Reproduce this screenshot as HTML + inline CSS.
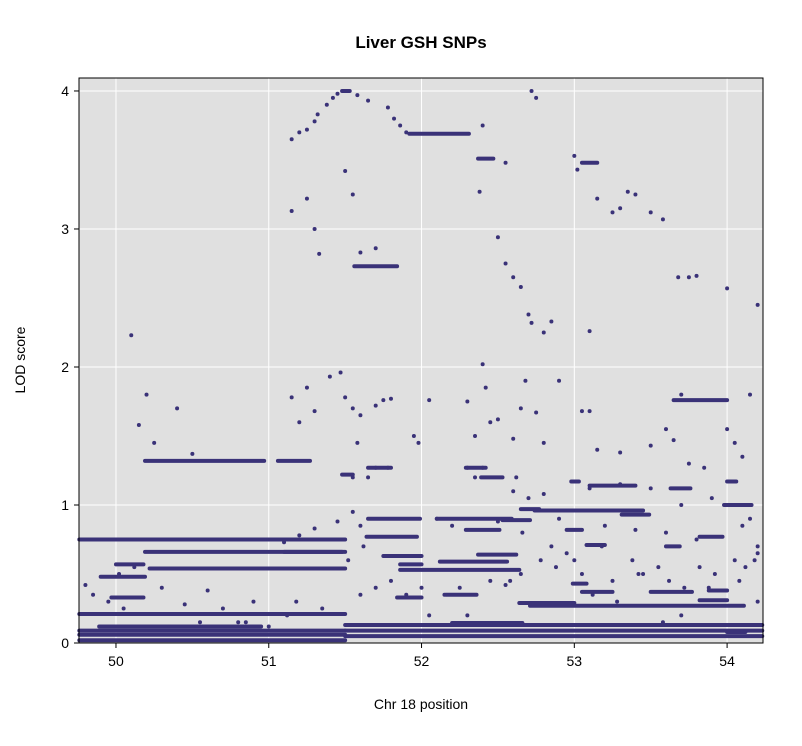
<!DOCTYPE html>
<html><head><meta charset="utf-8"><style>
body{margin:0;background:#fff;font-family:"Liberation Sans",Arial,sans-serif}
svg text{font-family:"Liberation Sans",Arial,sans-serif}
</style></head><body>
<svg id="chart" width="802" height="741" xmlns="http://www.w3.org/2000/svg">
<text x="421" y="48" text-anchor="middle" font-size="17" font-weight="bold">Liver GSH SNPs</text>
<rect x="79" y="78" width="684" height="565" fill="#e0e0e0"/>
<g id="grid"></g><g id="runs"></g><g id="pts"></g><g id="axes"></g>
<rect x="79" y="78" width="684" height="565" fill="none" stroke="#000" stroke-width="1"/>
<text x="421" y="709" text-anchor="middle" font-size="14">Chr 18 position</text>
<text x="0" y="0" transform="translate(25,360) rotate(-90)" text-anchor="middle" font-size="14">LOD score</text>
</svg>
<script>
const xTicks=[50,51,52,53,54];
const yTicks=[0,1,2,3,4];
// horizontal runs of dense SNPs: start pos, end pos, LOD
const runStart=[49.76,50.19,50.22,49.9,49.76,49.76,49.76,50.19,51.06,51.56,51.48,51.92,52.37,51.65,51.86,51.86,52.64,52.71,51.5,51.5,51.5,53.65,52.74,52.37,51.1,53.05,54.0,
 52.10,52.65,53.98,51.65,52.29,52.39,51.48,52.98,53.10,53.63,54.0,51.64,52.29,52.53,53.31,51.75,52.12,53.08,53.82,52.95,53.6,51.84,52.16,53.05,53.50,53.88,53.82,52.99,52.2,50.0,49.97,49.89,50.2,49.76];
const runEnd=[51.5,51.5,51.5,50.19,51.5,51.5,51.5,50.97,51.27,51.84,51.53,52.31,52.47,51.99,52.0,52.64,53.0,54.11,54.23,54.23,54.23,54.0,53.45,52.62,51.48,53.15,54.12,
 52.59,52.77,54.16,51.80,52.42,52.53,51.55,53.03,53.40,53.76,54.06,51.97,52.51,52.71,53.49,52.0,52.56,53.2,53.97,53.05,53.69,52.0,52.36,53.25,53.77,54.0,54.0,53.08,52.66,50.18,50.18,50.2,50.95,51.5];
const runLod=[0.75,0.66,0.54,0.48,0.21,0.06,0.09,1.32,1.32,2.73,4.0,3.69,3.51,0.9,0.57,0.53,0.29,0.27,0.13,0.09,0.05,1.76,0.96,0.64,0.66,3.48,0.08,
 0.90,0.97,1.0,1.27,1.27,1.2,1.22,1.17,1.14,1.12,1.17,0.77,0.82,0.89,0.93,0.63,0.59,0.71,0.77,0.82,0.7,0.33,0.35,0.37,0.37,0.38,0.31,0.43,0.145,0.57,0.33,0.12,0.12,0.02];
// individual SNPs
const ptPos=[51.15,51.2,51.25,51.3,51.32,51.38,51.42,51.45,51.58,51.65,51.78,51.82,51.86,51.9,52.4,52.55,52.38,52.5,52.55,52.6,52.65,52.7,52.72,52.8,52.85,52.72,52.75,53.0,53.02,53.15,53.25,53.3,53.35,53.4,53.5,53.58,53.68,53.75,53.8,54.0,54.2,53.1,51.15,51.25,51.3,51.33,51.5,51.55,51.6,51.7,50.1,50.15,50.2,50.25,50.4,50.5,51.15,51.2,51.25,51.3,51.4,51.47,51.5,51.55,51.6,51.7,51.75,51.8,51.58,51.55,51.65,51.7,51.78,51.95,51.98,52.05,52.3,52.35,52.4,52.42,52.45,52.5,52.6,52.68,52.65,52.75,52.8,52.9,53.05,53.1,53.15,53.3,53.5,53.6,53.7,53.65,53.75,53.85,54.0,54.05,54.1,54.15,52.3,52.35,52.4,52.6,52.62,52.7,52.8,53.1,53.3,53.5,53.7,53.9,54.0,54.15,54.2,51.1,51.2,51.3,51.45,51.55,51.6,52.1,52.2,52.5,52.9,53.2,53.4,53.6,53.8,54.1,54.18,49.8,49.85,49.95,50.05,50.1,50.3,50.45,50.6,50.8,50.9,51.0,51.6,51.7,51.8,51.9,52.0,52.15,52.25,52.45,52.55,52.65,52.78,52.88,52.95,53.05,53.18,53.25,53.38,53.45,53.55,53.62,53.72,53.82,53.92,54.05,54.12,54.2,51.12,51.18,51.35,51.52,51.62,51.9,52.05,52.3,52.58,52.66,52.85,53.0,53.12,53.28,53.42,53.58,53.7,53.88,54.08,54.2,50.02,50.12,50.35,50.55,50.7,50.85];
const ptLod=[3.65,3.7,3.72,3.78,3.83,3.9,3.95,3.98,3.97,3.93,3.88,3.8,3.75,3.7,3.75,3.48,3.27,2.94,2.75,2.65,2.58,2.38,2.32,2.25,2.33,4.0,3.95,3.53,3.43,3.22,3.12,3.15,3.27,3.25,3.12,3.07,2.65,2.65,2.66,2.57,2.45,2.26,3.13,3.22,3.0,2.82,3.42,3.25,2.83,2.86,2.23,1.58,1.8,1.45,1.7,1.37,1.78,1.6,1.85,1.68,1.93,1.96,1.78,1.7,1.65,1.72,1.76,1.77,1.45,1.2,1.2,1.27,1.27,1.5,1.45,1.76,1.75,1.5,2.02,1.85,1.6,1.62,1.48,1.9,1.7,1.67,1.45,1.9,1.68,1.68,1.4,1.38,1.43,1.55,1.8,1.47,1.3,1.27,1.55,1.45,1.35,1.8,1.27,1.2,1.27,1.1,1.2,1.05,1.08,1.12,1.15,1.12,1.0,1.05,1.0,0.9,0.7,0.73,0.78,0.83,0.88,0.95,0.85,0.9,0.85,0.88,0.9,0.85,0.82,0.8,0.75,0.85,0.6,0.42,0.35,0.3,0.25,0.33,0.4,0.28,0.38,0.15,0.3,0.12,0.35,0.4,0.45,0.33,0.4,0.35,0.4,0.45,0.42,0.5,0.6,0.55,0.65,0.5,0.7,0.45,0.6,0.5,0.55,0.45,0.4,0.55,0.5,0.6,0.55,0.65,0.2,0.3,0.25,0.6,0.7,0.35,0.2,0.2,0.45,0.8,0.7,0.6,0.35,0.3,0.5,0.15,0.2,0.4,0.45,0.3,0.5,0.55,0.12,0.15,0.25,0.15,0.3,0.18];
const X0=49.758,X1=54.235,Y0=0,Y1=4.094,L=79,R=763,T=78,B=643;
const sx=v=>L+(v-X0)/(X1-X0)*(R-L);
const sy=v=>B-(v-Y0)/(Y1-Y0)*(B-T);
const NS='http://www.w3.org/2000/svg';
function mk(tag,attrs,parent){const e=document.createElementNS(NS,tag);for(const k in attrs)e.setAttribute(k,attrs[k]);document.getElementById(parent).appendChild(e);return e;}
const col='#3a3278';
xTicks.forEach(t=>{
  const g=mk('line',{x1:sx(t),x2:sx(t),y1:T,y2:B,stroke:'#fff','stroke-width':1},'grid');
  
  
  const tk=mk('line',{x1:sx(t),x2:sx(t),y1:B,y2:B+5,stroke:'#000'},'axes');
  
  
  const tx=mk('text',{x:sx(t),y:B+23,'text-anchor':'middle','font-size':14},'axes');
  tx.textContent=t;
  
  
});
yTicks.forEach(t=>{
  const g=mk('line',{x1:L,x2:R,y1:sy(t),y2:sy(t),stroke:'#fff','stroke-width':1},'grid');
  
  
  const tk=mk('line',{x1:L-5,x2:L,y1:sy(t),y2:sy(t),stroke:'#000'},'axes');
  
  
  const tx=mk('text',{x:L-10,y:sy(t)+5,'text-anchor':'end','font-size':14},'axes');
  tx.textContent=t;
  
  
});
runStart.forEach((s,i)=>{
  const l=mk('line',{x1:sx(s),x2:sx(runEnd[i]),y1:sy(runLod[i]),y2:sy(runLod[i]),stroke:col,'stroke-width':4,'stroke-linecap':'round'},'runs');
  
  
});
ptPos.forEach((p,i)=>{
  const c=mk('circle',{cx:sx(p),cy:sy(ptLod[i]),r:2,fill:col},'pts');
  
  
});
</script>
</body></html>
